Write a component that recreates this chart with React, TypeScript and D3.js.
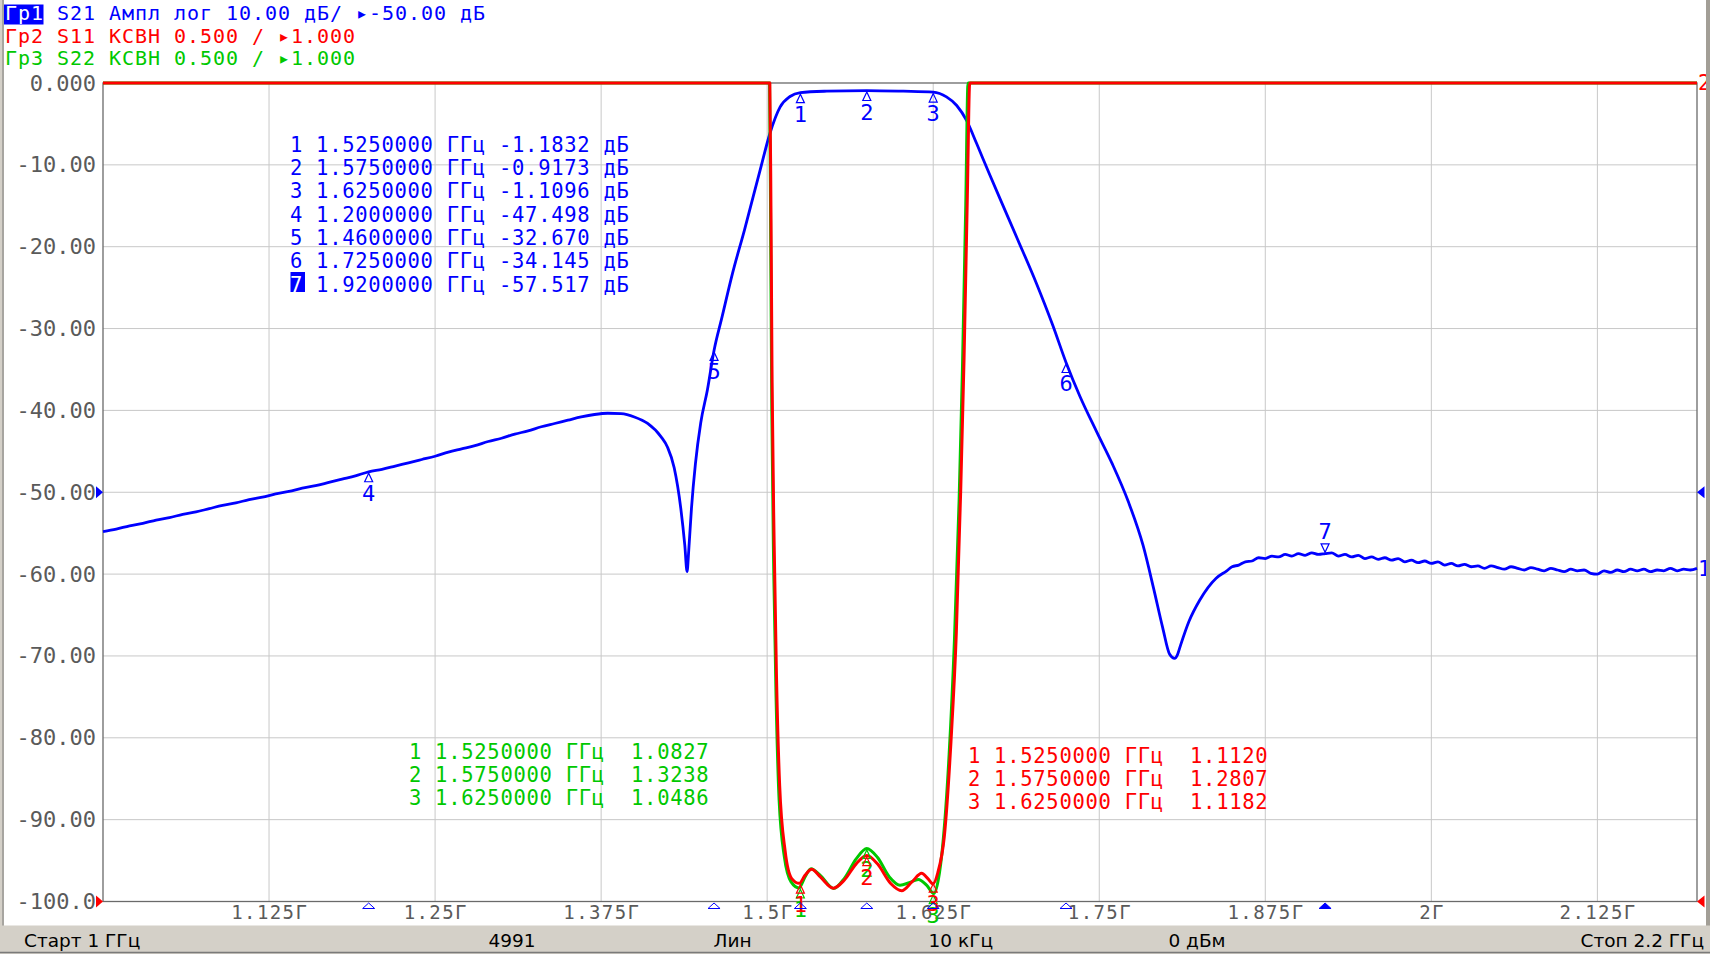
import React, { useEffect } from 'react';
import * as d3 from 'd3';

// ---------- DATA ----------
const xTickValues = [1.125, 1.25, 1.375, 1.5, 1.625, 1.75, 1.875, 2.0, 2.125];
const xTickLabels = ['1.125Г', '1.25Г', '1.375Г', '1.5Г', '1.625Г', '1.75Г', '1.875Г', '2Г', '2.125Г'];
const yTickValues = [0, -10, -20, -30, -40, -50, -60, -70, -80, -90, -100];
const yTickLabels = ['0.000', '-10.00', '-20.00', '-30.00', '-40.00', '-50.00', '-60.00', '-70.00', '-80.00', '-90.00', '-100.0'];

// S21, GHz / dB
const s21Points: [number, number][] = [
  [1.00, -54.8], [1.01, -54.5], [1.02, -54.1], [1.03, -53.8], [1.04, -53.4], [1.05, -53.1],
  [1.06, -52.7], [1.07, -52.4], [1.08, -52.0], [1.09, -51.6], [1.10, -51.3], [1.11, -50.9],
  [1.12, -50.6], [1.13, -50.2], [1.14, -49.9], [1.15, -49.5], [1.16, -49.2], [1.17, -48.8],
  [1.18, -48.4], [1.19, -48.0], [1.20, -47.5], [1.21, -47.2], [1.22, -46.8], [1.23, -46.4],
  [1.24, -46.0], [1.25, -45.6], [1.26, -45.1], [1.27, -44.7], [1.28, -44.3], [1.29, -43.8],
  [1.30, -43.4], [1.31, -42.9], [1.32, -42.5], [1.33, -42.0], [1.34, -41.6], [1.35, -41.2],
  [1.36, -40.8], [1.37, -40.5], [1.38, -40.35], [1.39, -40.4], [1.40, -40.8], [1.41, -41.6],
  [1.42, -43.2], [1.425, -44.5], [1.43, -47.0], [1.435, -52.0], [1.438, -56.5], [1.4397, -59.7],
  [1.441, -57.0], [1.443, -52.0], [1.446, -46.5], [1.45, -41.5], [1.455, -37.5], [1.46, -32.67],
  [1.466, -28.6], [1.474, -23.2], [1.483, -17.9], [1.4946, -10.7], [1.502, -6.2], [1.5097, -2.95],
  [1.5172, -1.65], [1.525, -1.18], [1.545, -1.0], [1.575, -0.92], [1.6025, -1.0], [1.625, -1.11],
  [1.635, -1.7], [1.6427, -2.75], [1.6502, -4.6], [1.6577, -7.4], [1.667, -11.0], [1.676, -14.4],
  [1.688, -18.9], [1.7025, -24.4], [1.715, -29.6], [1.725, -34.145], [1.7355, -38.3], [1.748, -42.6],
  [1.760, -46.6], [1.772, -51.2], [1.783, -56.5], [1.791, -61.8], [1.7977, -66.5], [1.803, -69.8],
  [1.8067, -70.3], [1.809, -69.8], [1.811, -68.8], [1.8175, -65.8], [1.8256, -63.2], [1.838, -60.5],
  [1.846, -59.6], [1.850, -59.1], [1.855, -58.9], [1.860, -58.5], [1.865, -58.4], [1.870, -58.0],
  [1.875, -58.1], [1.880, -57.8], [1.885, -57.9], [1.890, -57.6], [1.895, -57.8], [1.900, -57.5],
  [1.905, -57.7], [1.910, -57.4], [1.915, -57.6], [1.920, -57.5], [1.925, -57.4], [1.930, -57.8],
  [1.935, -57.6], [1.940, -57.9], [1.945, -57.7], [1.950, -58.1], [1.955, -57.9], [1.960, -58.2],
  [1.965, -58.0], [1.970, -58.3], [1.975, -58.1], [1.980, -58.5], [1.985, -58.3], [1.990, -58.6],
  [1.995, -58.4], [2.000, -58.7], [2.005, -58.5], [2.010, -58.9], [2.015, -58.7], [2.020, -59.0],
  [2.025, -58.8], [2.030, -59.1], [2.035, -59.0], [2.040, -59.3], [2.045, -59.0], [2.050, -59.2],
  [2.055, -59.4], [2.060, -59.1], [2.065, -59.3], [2.070, -59.5], [2.075, -59.2], [2.080, -59.4],
  [2.085, -59.6], [2.090, -59.3], [2.095, -59.5], [2.100, -59.7], [2.105, -59.4], [2.110, -59.6],
  [2.115, -59.5], [2.120, -59.9], [2.125, -60.0], [2.130, -59.6], [2.135, -59.8], [2.140, -59.5],
  [2.145, -59.7], [2.150, -59.4], [2.155, -59.6], [2.160, -59.4], [2.165, -59.7], [2.170, -59.5],
  [2.175, -59.6], [2.180, -59.3], [2.185, -59.6], [2.190, -59.4], [2.195, -59.5], [2.200, -59.3],
];

// S11 VSWR
const s11Points: [number, number][] = [
  [1.000, 40], [1.300, 40], [1.5020, 40], [1.5029, 5.17], [1.5037, 4.17], [1.5053, 3.17],
  [1.5070, 2.38], [1.5094, 1.71], [1.5135, 1.31], [1.5185, 1.14], [1.5242, 1.111], [1.5285, 1.16],
  [1.5335, 1.197], [1.5400, 1.15], [1.5498, 1.081], [1.5580, 1.13], [1.5670, 1.23], [1.5750, 1.281],
  [1.5830, 1.23], [1.5930, 1.11], [1.6013, 1.066], [1.6090, 1.12], [1.6163, 1.172], [1.6210, 1.14],
  [1.6248, 1.108], [1.6285, 1.177], [1.6334, 1.40], [1.6384, 1.98], [1.6424, 2.64], [1.6457, 3.51],
  [1.6482, 4.31], [1.6507, 5.31], [1.6525, 40], [1.900, 40], [2.200, 40],
];

// S22 VSWR
const s22Points: [number, number][] = [
  [1.000, 40], [1.300, 40], [1.5018, 40], [1.5027, 5.0], [1.5035, 4.0], [1.5050, 3.0],
  [1.5067, 2.25], [1.5090, 1.62], [1.5130, 1.27], [1.5180, 1.12], [1.5240, 1.083], [1.5285, 1.15],
  [1.5330, 1.20], [1.5400, 1.16], [1.5500, 1.08], [1.5580, 1.14], [1.5670, 1.26], [1.5750, 1.324],
  [1.5830, 1.27], [1.5920, 1.15], [1.6000, 1.10], [1.6070, 1.115], [1.6138, 1.135], [1.6200, 1.10],
  [1.6255, 1.049], [1.6290, 1.14], [1.6320, 1.33], [1.6370, 1.90], [1.6410, 2.60], [1.6445, 3.45],
  [1.6470, 4.25], [1.6495, 5.25], [1.6512, 40], [2.200, 40],
];

const s21Markers = [
  { id: '1', f: 1.525, v: -1.1832 }, { id: '2', f: 1.575, v: -0.9173 }, { id: '3', f: 1.625, v: -1.1096 },
  { id: '4', f: 1.2, v: -47.498 }, { id: '5', f: 1.46, v: -32.67 }, { id: '6', f: 1.725, v: -34.145 },
  { id: '7', f: 1.92, v: -57.517 },
];
const s11Markers = [
  { id: '1', f: 1.525, v: 1.112 }, { id: '2', f: 1.575, v: 1.2807 }, { id: '3', f: 1.625, v: 1.1182 },
];
const s22Markers = [
  { id: '1', f: 1.525, v: 1.0827 }, { id: '2', f: 1.575, v: 1.3238 }, { id: '3', f: 1.625, v: 1.0486 },
];

const s21TableRows = [
  '1 1.5250000 ГГц -1.1832 дБ', '2 1.5750000 ГГц -0.9173 дБ', '3 1.6250000 ГГц -1.1096 дБ',
  '4 1.2000000 ГГц -47.498 дБ', '5 1.4600000 ГГц -32.670 дБ', '6 1.7250000 ГГц -34.145 дБ',
  '7 1.9200000 ГГц -57.517 дБ',
];
const s22TableRows = ['1 1.5250000 ГГц  1.0827', '2 1.5750000 ГГц  1.3238', '3 1.6250000 ГГц  1.0486'];
const s11TableRows = ['1 1.5250000 ГГц  1.1120', '2 1.5750000 ГГц  1.2807', '3 1.6250000 ГГц  1.1182'];

const header1 = ['Гр1', ' S21 Ампл лог 10.00 дБ/ ', '▸', '-50.00 дБ'];
const header2 = ['Гр2 S11 КСВН 0.500 / ', '▸', '1.000'];
const header3 = ['Гр3 S22 КСВН 0.500 / ', '▸', '1.000'];

const statusLabels = ['Старт 1 ГГц', '4991', 'Лин', '10 кГц', '0 дБм', 'Стоп 2.2 ГГц'];

// ---------- STYLE ----------
const BLUE = '#0000ff';
const RED = '#ff0000';
const GREEN = '#00c800';
const GRAY_TXT = '#5a5a5a';
const MONO = "'DejaVu Sans Mono', monospace";

export default function App() {
  useEffect(() => {
    document.body.style.margin = '0';
  }, []);

  const W = 1710, H = 954;
  const L = 103, R = 1697, T = 83, B = 901.5;
  const x = d3.scaleLinear().domain([1, 2.2]).range([L, R]);
  const yDb = d3.scaleLinear().domain([-100, 0]).range([B, T]);
  const yV = d3.scaleLinear().domain([1, 6]).range([B, T]).clamp(true);

  const lineDb = d3.line<[number, number]>().x(d => x(d[0])).y(d => yDb(d[1])).curve(d3.curveMonotoneX);
  const lineV = d3.line<[number, number]>().x(d => x(d[0])).y(d => yV(d[1])).curve(d3.curveMonotoneX);

  const traceMarker = (cx: number, cy: number, label: string, color: string, above: boolean, key: string) => {
    if (above) {
      return (
        <g key={key}>
          <path d={`M${cx},${cy - 1.5} L${cx - 4},${cy - 10} L${cx + 4},${cy - 10} Z`} fill="none" stroke={color} strokeWidth={1.2} />
          <text x={cx} y={cy - 15} textAnchor="middle" fontFamily={MONO} fontSize={22} fill={color}>{label}</text>
        </g>
      );
    }
    return (
      <g key={key}>
        <path d={`M${cx},${cy + 1.5} L${cx - 4},${cy + 10} L${cx + 4},${cy + 10} Z`} fill="none" stroke={color} strokeWidth={1.2} />
        <text x={cx} y={cy + 29} textAnchor="middle" fontFamily={MONO} fontSize={22} fill={color}>{label}</text>
      </g>
    );
  };

  const statusPos: { x: number; a: 'start' | 'middle' | 'end' }[] = [
    { x: 24, a: 'start' }, { x: 512, a: 'middle' }, { x: 732.5, a: 'middle' },
    { x: 960.8, a: 'middle' }, { x: 1197, a: 'middle' }, { x: 1704, a: 'end' },
  ];

  const tableStyle: React.CSSProperties = { whiteSpace: 'pre' };

  return (
    <svg width={W} height={H} style={{ position: 'absolute', left: 0, top: 0, background: '#ffffff', display: 'block' }}>
      <rect x={0} y={0} width={W} height={H} fill="#ffffff" />

      {/* grid */}
      {xTickValues.map((v, i) => (
        <line key={'gx' + i} x1={x(v)} x2={x(v)} y1={T} y2={B} stroke="#c8c8c8" strokeWidth={1} />
      ))}
      {yTickValues.slice(1, -1).map((v, i) => (
        <line key={'gy' + i} x1={L} x2={R} y1={yDb(v)} y2={yDb(v)} stroke="#c8c8c8" strokeWidth={1} />
      ))}

      {/* plot frame */}
      <rect x={L} y={T} width={R - L} height={B - T} fill="none" stroke="#6a6a6a" strokeWidth={1.3} />

      {/* y labels */}
      {yTickValues.map((v, i) => (
        <text key={'yl' + i} x={96} y={yDb(v) + 7.5} textAnchor="end" fontFamily={MONO} fontSize={22} fill={GRAY_TXT}>
          {yTickLabels[i]}
        </text>
      ))}

      {/* x labels */}
      {xTickValues.map((v, i) => (
        <text key={'xl' + i} x={x(v) + 0.7} y={918.5} textAnchor="middle" fontFamily={MONO} fontSize={19} letterSpacing={1.4} fill={GRAY_TXT}>
          {xTickLabels[i]}
        </text>
      ))}

      {/* traces */}
      <path d={lineDb(s21Points) || ''} fill="none" stroke={BLUE} strokeWidth={2.8} strokeLinejoin="round" />
      <path d={lineV(s22Points) || ''} fill="none" stroke={GREEN} strokeWidth={3} strokeLinejoin="round" />
      <path d={lineV(s11Points) || ''} fill="none" stroke={RED} strokeWidth={3} strokeLinejoin="round" />

      {/* trace markers */}
      {s21Markers.map(m => traceMarker(x(m.f), yDb(m.v), m.id, BLUE, m.id === '7', 'bm' + m.id))}
      {s22Markers.map(m => traceMarker(x(m.f), yV(m.v), m.id, GREEN, false, 'gm' + m.id))}
      {s11Markers.map(m => traceMarker(x(m.f), yV(m.v), m.id, RED, false, 'rm' + m.id))}

      {/* bottom marker indicators */}
      {s21Markers.map(m => (
        <path key={'bi' + m.id}
          d={`M${x(m.f)},${903} L${x(m.f) - 6},${908.5} L${x(m.f) + 6},${908.5} Z`}
          fill={m.id === '7' ? BLUE : 'none'} stroke={BLUE} strokeWidth={1} />
      ))}

      {/* reference level triangles */}
      <path d={`M${L},${yDb(-50)} L${L - 7},${yDb(-50) - 6} L${L - 7},${yDb(-50) + 6} Z`} fill={BLUE} />
      <path d={`M${L},${yDb(-100)} L${L - 7},${yDb(-100) - 6} L${L - 7},${yDb(-100) + 6} Z`} fill={RED} />
      <path d={`M${R},${yDb(-50)} L${R + 7.5},${yDb(-50) - 6} L${R + 7.5},${yDb(-50) + 6} Z`} fill={BLUE} />
      <path d={`M${R},${yDb(-100)} L${R + 7.5},${yDb(-100) - 6} L${R + 7.5},${yDb(-100) + 6} Z`} fill={RED} />

      {/* trace end labels */}
      <text x={R + 1} y={yDb(s21Points[s21Points.length - 1][1]) + 8} fontFamily={MONO} fontSize={21} fill={BLUE}>1</text>
      <text x={R + 1} y={T + 7} fontFamily={MONO} fontSize={21} fill={RED}>2</text>

      {/* marker tables */}
      {s21TableRows.map((r, i) => (
        <g key={'t21' + i}>
          {i === 6 && <rect x={290.5} y={272} width={14.5} height={20} fill={BLUE} />}
          <text x={290} y={151.7 + i * 23.3} fontFamily={MONO} fontSize={20.5} letterSpacing={0.72} fill={BLUE} style={tableStyle}>
            {i === 6 ? (
              <>
                <tspan fill="#ffffff">{r.slice(0, 1)}</tspan>
                <tspan>{r.slice(1)}</tspan>
              </>
            ) : r}
          </text>
        </g>
      ))}
      {s22TableRows.map((r, i) => (
        <text key={'t22' + i} x={409} y={759 + i * 23} fontFamily={MONO} fontSize={20.5} letterSpacing={0.72} fill={GREEN} style={tableStyle}>{r}</text>
      ))}
      {s11TableRows.map((r, i) => (
        <text key={'t11' + i} x={968} y={763.3 + i * 23} fontFamily={MONO} fontSize={20.5} letterSpacing={0.72} fill={RED} style={tableStyle}>{r}</text>
      ))}

      {/* header */}
      <rect x={4} y={4.5} width={39.5} height={20} fill={BLUE} />
      <text x={5} y={20} fontFamily={MONO} fontSize={20} letterSpacing={0.96} style={tableStyle}>
        <tspan fill="#ffffff">{header1[0]}</tspan>
        <tspan fill={BLUE}>{header1[1]}</tspan>
        <tspan fill={BLUE}>{header1[2]}</tspan>
        <tspan fill={BLUE}>{header1[3]}</tspan>
      </text>
      <text x={5} y={42.7} fontFamily={MONO} fontSize={20} letterSpacing={0.96} fill={RED} style={tableStyle}>
        {header2.join('')}
      </text>
      <text x={5} y={65} fontFamily={MONO} fontSize={20} letterSpacing={0.96} fill={GREEN} style={tableStyle}>
        {header3.join('')}
      </text>

      {/* window frame */}
      <rect x={0} y={0} width={2} height={H} fill="#d4d0c8" />
      <line x1={3} x2={3} y1={0} y2={H} stroke="#8a8780" strokeWidth={1.5} />
      <rect x={1706} y={0} width={4} height={H} fill="#a29e96" />

      {/* status bar */}
      <rect x={0} y={925.5} width={W} height={28.5} fill="#d4d0c8" />
      <line x1={0} x2={W} y1={952.5} y2={952.5} stroke="#7a7a7a" strokeWidth={1.5} />
      {statusLabels.map((s, i) => (
        <text key={'sb' + i} x={statusPos[i].x} y={946.7} textAnchor={statusPos[i].a} fontFamily="'DejaVu Sans', sans-serif" fontSize={18.5} fill="#000000">
          {s}
        </text>
      ))}
    </svg>
  );
}
